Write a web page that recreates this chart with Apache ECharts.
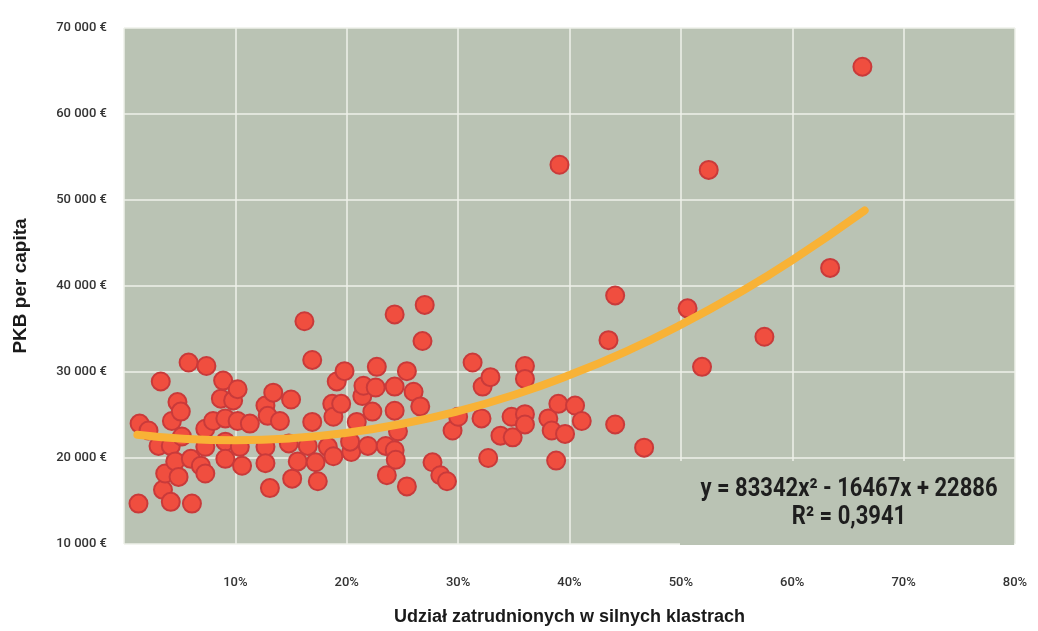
<!DOCTYPE html>
<html>
<head>
<meta charset="utf-8">
<script src="https://cdn.jsdelivr.net/npm/echarts@6/dist/echarts.min.js"></script>
<style>
html,body{margin:0;padding:0;background:#fff;}
#c{width:1038px;height:631px;}
</style>
</head>
<body>
<div id="c"></div>
<script>
// Scatter points: [share of employment in strong clusters (%), GDP per capita (€)]
const regionShare = [1.3,1.4,2.2,3.1,3.3,3.5,3.7,4.2,4.2,4.3,4.8,5.1,4.6,4.9,5.2,5.8,6.0,6.1,6.9,7.3,7.3,7.3,7.4,8.0,8.7,8.9,9.1,9.1,9.1,
  9.8,10.2,10.2,10.4,10.6,11.3,12.7,12.9,12.7,12.7,13.1,13.4,14.0,14.8,15.0,15.1,15.6,16.2,16.5,16.9,16.9,17.2,17.4,18.3,18.7,18.8,18.8,
  19.1,19.8,19.5,20.4,20.3,20.9,21.4,21.5,22.6,21.9,22.3,22.7,23.5,23.6,24.3,24.3,24.3,24.3,24.4,24.6,25.4,25.4,26.0,26.6,26.8,27.0,27.7,28.4,29.0,
  29.5,30.0,31.3,32.2,32.9,32.1,32.7,33.8,34.8,34.9,36.0,36.0,36.0,36.0,38.1,38.4,38.8,39.0,39.6,40.5,41.1,39.1,
  43.5,44.1,44.1,46.7,50.6,51.9,52.5,57.5,63.4,66.3];
const regionGdp = [14700,24000,23200,21400,28900,16300,18200,14900,21400,24300,26500,25400,19600,17800,22500,31100,19900,14700,19100,23400,21300,18200,30700,24300,26900,29000,24600,21900,19900,
  26700,28000,24300,21300,19100,24000,26100,24900,21300,19400,16500,27600,24300,21700,26800,17600,19600,35900,21400,31400,24200,19500,17300,21300,26300,24800,20200,
  28900,30100,26300,20700,21900,24200,27200,28400,28200,21400,25400,30600,21400,18000,36700,28300,25500,20900,19800,23100,30100,16700,27700,26000,33600,37800,19500,18000,17300,
  23200,24800,31100,28300,29400,24600,20000,22600,24800,22400,30700,29200,25100,23900,24600,23200,19700,26300,22800,26100,24300,54100,
  33700,38900,23900,21200,37400,30600,53500,34100,42100,65500];

// Trend curve
const trendShare = [1.2,5,10,15,20,25,30,35,40,45,50,55,60,66.5];
const trendGdp = [22700,22270,22070,22290,22930,23980,25450,27330,29640,32350,35490,39040,43010,48790];

const xTicks = {min:0, max:80, interval:10};
const yTicks = {min:10000, max:70000, interval:10000};
const equationLine1 = 'y = 83342x² - 16467x + 22886';
const equationLine2 = 'R² = 0,3941';
const xTitle = 'Udział zatrudnionych w silnych klastrach';
const yTitle = 'PKB per capita';

const scatterData = regionShare.map((v,i)=>[v, regionGdp[i]]);
const trendData = trendShare.map((v,i)=>[v, trendGdp[i]]);

const chart = echarts.init(document.getElementById('c'), null, {renderer:'canvas'});
const tickFont = "Roboto,'Liberation Sans',sans-serif";
const eqFont = "Roboto,'Liberation Sans',sans-serif";
chart.setOption({
  animation:false,
  backgroundColor:'#ffffff',
  grid:{left:124, right:23, top:28, bottom:85, show:true, backgroundColor:'#bac3b4', borderWidth:0},
  xAxis:{
    type:'value', min:xTicks.min, max:xTicks.max, interval:xTicks.interval,
    name:xTitle, nameLocation:'middle', nameGap:64,
    nameTextStyle:{fontFamily:"'Liberation Sans',Arial,sans-serif", fontWeight:'bold', fontSize:18, color:'#1a1a1a'},
    axisLine:{show:false}, axisTick:{show:false},
    axisLabel:{margin:32, fontFamily:tickFont, fontSize:13, fontWeight:500, color:'#333333',
      formatter:v=> v===0 ? '' : v+'%'},
    splitLine:{show:true, lineStyle:{color:'#eef0ea', width:1.5}}
  },
  yAxis:{
    type:'value', min:yTicks.min, max:yTicks.max, interval:yTicks.interval,
    name:yTitle, nameLocation:'middle', nameGap:94, nameRotate:90,
    nameTextStyle:{fontFamily:"'Liberation Sans',Arial,sans-serif", fontWeight:'bold', fontSize:19, color:'#1a1a1a'},
    axisLine:{show:false}, axisTick:{show:false},
    axisLabel:{margin:17, fontFamily:tickFont, fontSize:13, fontWeight:500, color:'#333333', padding:[0,0,7,0],
      formatter:v=> String(v).replace(/(\d)(?=(\d{3})+$)/g,'$1 ')+' €'},
    splitLine:{show:true, lineStyle:{color:'#eef0ea', width:1.5}}
  },
  graphic:[
    {type:'rect', z:1, shape:{x:680, y:461, width:334, height:84}, style:{fill:'#bac3b4'}},
    {type:'text', z:2, x:849, y:490, scaleX:0.88, style:{text:equationLine1, align:'center', verticalAlign:'middle',
      fontFamily:eqFont, fontWeight:'bold', fontSize:25, fill:'#1e1e1e'}},
    {type:'text', z:2, x:849, y:518, scaleX:0.88, style:{text:equationLine2, align:'center', verticalAlign:'middle',
      fontFamily:eqFont, fontWeight:'bold', fontSize:25, fill:'#1e1e1e'}}
  ],
  series:[
    {type:'scatter', data:scatterData, symbolSize:18, z:3,
      itemStyle:{color:'#f04e3f', borderColor:'#c93a3a', borderWidth:2, opacity:1}},
    {type:'line', data:trendData, smooth:true, showSymbol:false, symbol:'none', z:4,
      lineStyle:{color:'#f8b236', width:8, cap:'round'}}
  ]
});
</script>
</body>
</html>
